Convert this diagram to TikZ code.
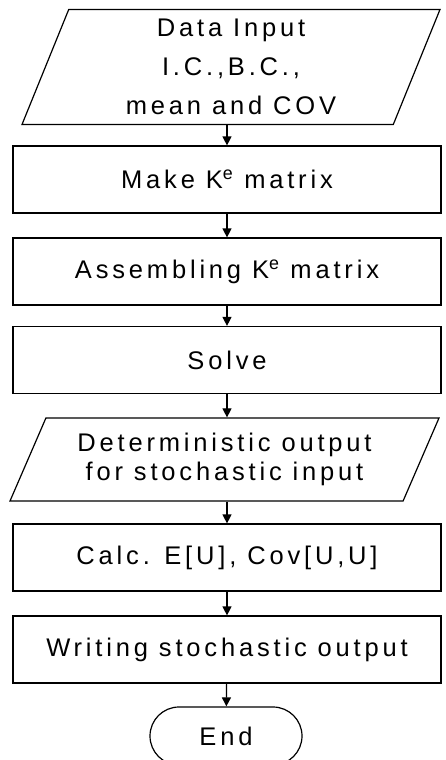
\documentclass[tikz,border=0pt]{standalone}
\usepackage{fontspec}
\setmainfont{Liberation Sans}[LetterSpace=15]
\usetikzlibrary{arrows.meta,shapes.geometric,shapes.misc}

\begin{document}
\begin{tikzpicture}[x=1pt,y=-1pt,line width=1.2pt,
	flow/.style={-{Triangle[width=9pt,length=9pt]}},
	procbox/.style={draw,rectangle,inner sep=0pt,minimum width=428pt,minimum height=67pt,font=\fontsize{25.5}{30}\selectfont},
	iobox/.style={draw,trapezium,trapezium stretches body,inner sep=0pt,align=center},
	endbox/.style={draw,rounded rectangle,inner sep=0pt,minimum width=152pt,minimum height=58pt,font=\fontsize{25.5}{30}\selectfont}]
	\useasboundingbox (0,0) rectangle (446,760);

	% input
	\node[iobox,trapezium left angle=64,trapezium right angle=116,
		minimum width=418pt,minimum height=115pt,font=\fontsize{25.5}{39}\selectfont]
		(input) at (231,67) {Data Input\\I.C.,B.C.,\\mean and COV};

	% process boxes
	\node[procbox] (make) at (227,179.5) {Make K\textsuperscript{e} matrix};
	\node[procbox] (assemble) at (227,271.5) {Assembling K\textsuperscript{e} matrix};
	\node[procbox] (solve) at (227,360) {Solve};

	% deterministic output
	\node[iobox,trapezium left angle=55.5,trapezium right angle=124.5,
		minimum width=429pt,minimum height=83pt,font=\fontsize{25.5}{28.5}\selectfont]
		(detout) at (224.5,459.5) {Deterministic output\\for stochastic input};

	\node[procbox] (calc) at (227,557.5) {Calc. E[U], Cov[U,U]};
	\node[procbox] (write) at (227,649.5) {Writing stochastic output};

	% end
	\node[endbox] (end) at (226,736) {End};

	% arrows
	\draw[flow] (input.south -| make) -- (make.north);
	\draw[flow] (make) -- (assemble);
	\draw[flow] (assemble) -- (solve);
	\draw[flow] (solve.south) -- (detout.north -| solve);
	\draw[flow] (detout.south -| calc) -- (calc.north);
	\draw[flow] (calc) -- (write);
	\draw[flow] (write) -- (end);
\end{tikzpicture}
\end{document}
